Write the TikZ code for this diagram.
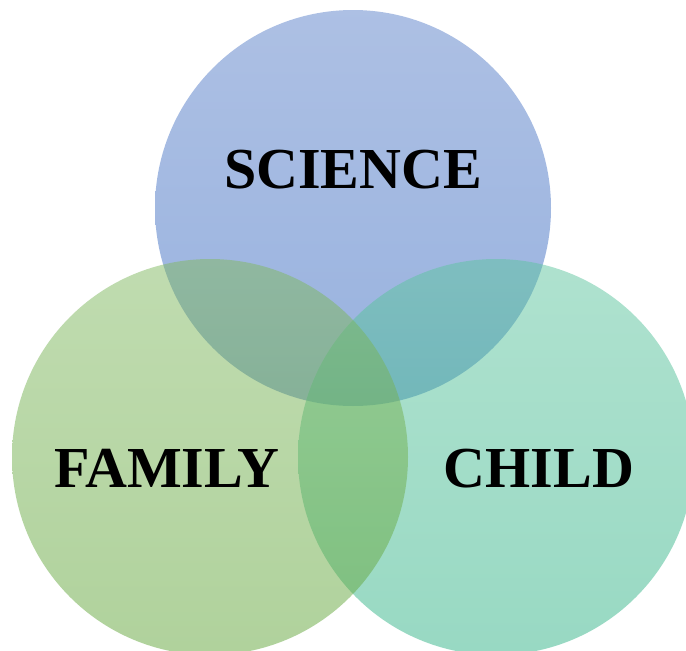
\documentclass[tikz,border=0pt]{standalone}
\usepackage{fontspec}
\setmainfont{Liberation Serif}
\definecolor{scitop}{RGB}{91,129,201}
\definecolor{scibot}{RGB}{49,101,191}
\definecolor{chitop}{RGB}{95,197,159}
\definecolor{chibot}{RGB}{49,179,135}
\definecolor{famtop}{RGB}{129,185,97}
\definecolor{fambot}{RGB}{97,165,57}
\begin{document}
\begin{tikzpicture}[x=1pt, y=-1pt, disc/.style = {circle, minimum size=396pt, inner sep=0pt, fill opacity=0.5}, word/.style = {anchor=base, font=\fontsize{58}{58}\selectfont\bfseries}]
    \useasboundingbox (0,0) rectangle (686,651);
    \node[disc, top color=scitop, bottom color=scibot] (science) at (353,208) {};
    \node[disc, top color=chitop, bottom color=chibot] (child) at (496,457) {};
    \node[disc, top color=famtop, bottom color=fambot] (family) at (210,457) {};
    \node[word] (sciword) at (353,188) {SCIENCE};
    \node[word] (famword) at (167,487) {FAMILY};
    \node[word] (chiword) at (539,487) {CHILD};
\end{tikzpicture}
\end{document}
